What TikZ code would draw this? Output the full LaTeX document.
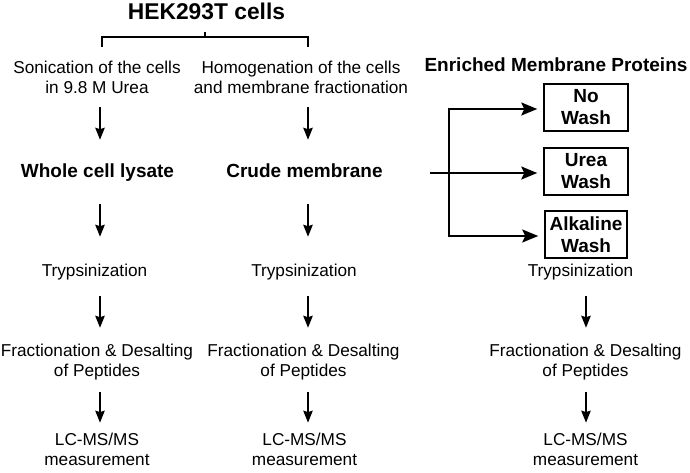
\documentclass[tikz,border=0pt]{standalone}
\usepackage{fontspec}
\setmainfont{Liberation Sans}
\usetikzlibrary{arrows.meta}
\begin{document}
\begin{tikzpicture}[x=1pt,y=-1pt,
  txt/.style={anchor=base, inner sep=0pt, align=center, font=\fontsize{17.2}{20}\selectfont},
  btxt/.style={anchor=base, inner sep=0pt, align=center, font=\fontsize{19}{22}\selectfont\bfseries},
  washbox/.style={draw, line width=1.5pt, minimum width=84pt, minimum height=47pt, inner sep=0pt, align=center, font=\fontsize{19}{22}\selectfont\bfseries},
  thinarrow/.style={line width=1.2pt, -{Stealth[length=12pt,width=9.5pt,inset=1.5pt]}},
  bigarrow/.style={line width=2pt, -{Stealth[length=16pt,width=13pt,inset=3pt]}},
  brk/.style={line width=1.5pt},
]
\useasboundingbox (0,0) rectangle (690,473);

\node[btxt, font=\fontsize{22.8}{26}\selectfont\bfseries] (title) at (206.5,20) {HEK293T cells};
\node[txt] (son) at (97,94) {Sonication of the cells\\in 9.8 M Urea};
\node[txt] (hom) at (301,94) {Homogenation of the cells\\and membrane fractionation};
\node[btxt] (wcl) at (97.5,178) {Whole cell lysate};
\node[btxt] (crm) at (304.5,178) {Crude membrane};
\node[btxt] (emp) at (556,72) {Enriched Membrane Proteins};
\node[washbox] (nw) at (586,107.5) {No\\Wash};
\node[washbox] (uw) at (586,171.5) {Urea\\Wash};
\node[washbox, minimum width=82pt] (aw) at (586,234.5) {Alkaline\\Wash};
\node[txt] (tr1) at (94.5,276) {Trypsinization};
\node[txt] (tr2) at (304,276) {Trypsinization};
\node[txt] (tr3) at (580.5,276) {Trypsinization};
\node[txt] (fr1) at (97,376) {Fractionation \& Desalting\\of Peptides};
\node[txt] (fr2) at (303.5,376) {Fractionation \& Desalting\\of Peptides};
\node[txt] (fr3) at (585.5,376) {Fractionation \& Desalting\\of Peptides};
\node[txt] (lc1) at (97,465.5) {LC-MS/MS\\measurement};
\node[txt] (lc2) at (304.5,465.5) {LC-MS/MS\\measurement};
\node[txt] (lc3) at (585.5,465.5) {LC-MS/MS\\measurement};

% bracket
\coordinate (bl) at (102,47);
\coordinate (br) at (308,47);
\draw[brk] (bl) -- ++(0,-10) -| (br);
\draw[brk] ([xshift=-1.5pt]title.south) ++(0,12) -- ++(0,5);

% column arrows
\coordinate (a1) at (100,0);
\coordinate (a2) at (308,0);
\coordinate (a3) at (586,0);
\draw[thinarrow, shorten <=13pt, shorten >=24.3pt] (son.south -| a1) -- (wcl.north -| a1);
\draw[thinarrow, shorten <=22pt, shorten >=26.6pt] (wcl.south -| a1) -- (tr1.north -| a1);
\draw[thinarrow, shorten <=16.4pt, shorten >=15.6pt] (tr1.south -| a1) -- (fr1.north -| a1);
\draw[thinarrow, shorten <=12.4pt, shorten >=10.2pt] (fr1.south -| a1) -- (lc1.north -| a1);

\draw[thinarrow, shorten <=13pt, shorten >=24.3pt] (hom.south -| a2) -- (crm.north -| a2);
\draw[thinarrow, shorten <=26pt, shorten >=26.6pt] (crm.south -| a2) -- (tr2.north -| a2);
\draw[thinarrow, shorten <=16.4pt, shorten >=15.6pt] (tr2.south -| a2) -- (fr2.north -| a2);
\draw[thinarrow, shorten <=12.4pt, shorten >=10.2pt] (fr2.south -| a2) -- (lc2.north -| a2);

\draw[thinarrow, shorten <=16.4pt, shorten >=15.6pt] (tr3.south -| a3) -- (fr3.north -| a3);
\draw[thinarrow, shorten <=12.4pt, shorten >=10.2pt] (fr3.south -| a3) -- (lc3.north -| a3);

% branching arrows
\coordinate (jx) at (449,0);
\coordinate (ms) at (430,173);
\draw[bigarrow, shorten >=6pt] (ms) -- ([yshift=-1.5pt]uw.west);
\draw[bigarrow, shorten >=6pt] (jx |- ms) |- ([yshift=-1.5pt]nw.west);
\draw[bigarrow, shorten >=6pt] (jx |- ms) |- ([yshift=-1.5pt]aw.west);
\end{tikzpicture}
\end{document}
